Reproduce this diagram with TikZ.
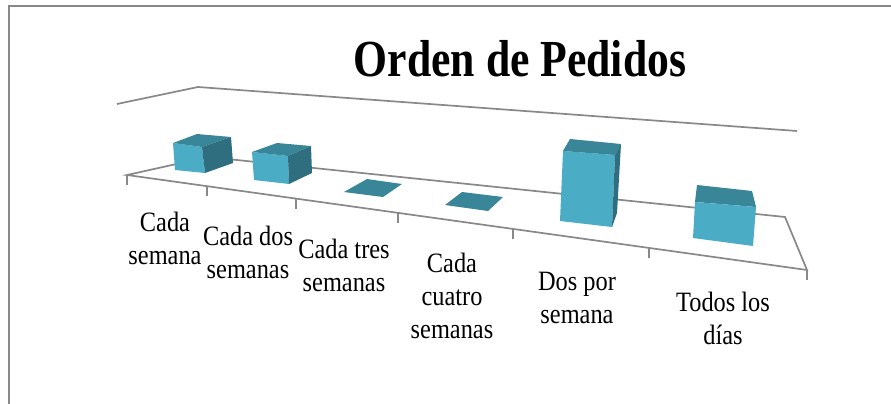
\documentclass[tikz,border=0pt]{standalone}
\usepackage{fontspec}
\setmainfont{Liberation Serif}[FakeStretch=0.87]
\newfontfamily\titlefont{Liberation Serif}[FakeStretch=0.84]
\usepackage{xcolor}
\usetikzlibrary{calc}

\definecolor{barfront}{RGB}{75,172,198}
\definecolor{bartop}{RGB}{56,134,152}
\definecolor{barside}{RGB}{46,110,126}
\definecolor{axisgray}{RGB}{136,136,136}

\begin{document}
\begin{tikzpicture}[x=1pt, y=-1pt,
    frame/.style={draw=axisgray, line width=2.6pt},
    axis/.style={draw=axisgray, line width=1.7pt},
    frontface/.style={fill=barfront},
    topface/.style={fill=bartop},
    sideface/.style={fill=barside},
    cat/.style={align=center, inner sep=0pt, font=\fontsize{28}{33}\selectfont}
]
    \useasboundingbox (0,0) rectangle (891,404);
    \draw[frame] (9,404) -- (9,6) -- (891,6);

    % Title
    \node[anchor=base, inner sep=0pt] (title) at (520,77)
        {\fontsize{52}{58}\titlefont\bfseries Orden de Pedidos};

    % Walls and floor
    \coordinate (wl) at (117,104);
    \coordinate (wc) at (198,87);
    \coordinate (wr) at (797,131);
    \coordinate (fl) at (127,175);
    \coordinate (bl) at (208,157);
    \coordinate (br) at (785,217);
    \coordinate (fr) at (807,270);
    \draw[axis] (wl) -- (wc) -- (wr);
    \draw[axis] (fl) -- (bl) -- (br) -- (fr) -- cycle;
    \foreach \t in {0,0.118,0.249,0.399,0.568,0.768,1}
        \draw[axis] ($(fl)!\t!(fr)$) -- ++(0,10);

    % Bars
    \fill[frontface] (173,143) -- (202,147) -- (205,173) -- (175,170) -- cycle;
    \fill[topface] (173,143) -- (197,134) -- (231,137) -- (202,147) -- cycle;
    \fill[sideface] (202,147) -- (231,137) -- (233,163) -- (205,173) -- cycle;

    \fill[frontface] (252,152) -- (288,156) -- (289,184) -- (254,180) -- cycle;
    \fill[topface] (252,152) -- (277,143) -- (311,146) -- (288,156) -- cycle;
    \fill[sideface] (288,156) -- (311,146) -- (312,173) -- (289,184) -- cycle;

    \fill[topface] (344,192) -- (367,179) -- (402,184) -- (383,197) -- cycle;
    \fill[topface] (445,205) -- (462,192) -- (503,197) -- (488,211) -- cycle;

    \fill[frontface] (563,151) -- (615,155) -- (612,227) -- (560,221) -- cycle;
    \fill[topface] (563,151) -- (570,139) -- (621,144) -- (615,155) -- cycle;
    \fill[sideface] (615,155) -- (621,144) -- (617,213) -- (612,227) -- cycle;

    \fill[topface] (697,185) -- (752,191) -- (756,207) -- (695,202) -- cycle;
    \fill[frontface] (695,202) -- (756,207) -- (753,246) -- (693,238) -- cycle;

    % Category labels
    \node[cat] (c1) at (165,238) {Cada\\semana};
    \node[cat] (c2) at (248,252) {Cada dos\\semanas};
    \node[cat] (c3) at (344,265) {Cada tres\\semanas};
    \node[cat] (c4) at (452,296) {Cada\\cuatro\\semanas};
    \node[cat] (c5) at (577,298) {Dos por\\semana};
    \node[cat] (c6) at (723,318) {Todos los\\días};
\end{tikzpicture}
\end{document}
